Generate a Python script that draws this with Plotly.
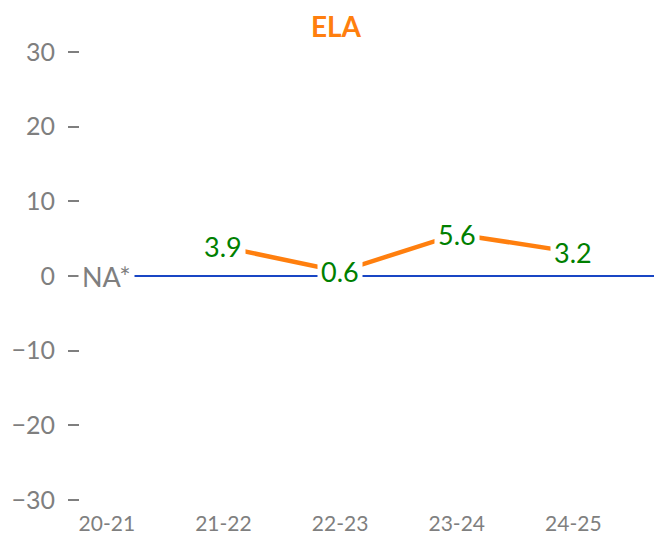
import plotly.graph_objects as go

categories = ["20-21", "21-22", "22-23", "23-24", "24-25"]
values = [None, 3.9, 0.6, 5.6, 3.2]
point_labels = ["NA*", "3.9", "0.6", "5.6", "3.2"]
y_ticks = [-30, -20, -10, 0, 10, 20, 30]
y_tick_text = ["\u221230", "\u221220", "\u221210", "0", "10", "20", "30"]

FONT = "Lato"
GRAY = "#7f7f7f"
ORANGE = "#ff7f0e"
GREEN = "#008000"
BLUE = "#1946c4"

# page body has an 8px margin; figure sized to fit the window
W, H = 654, 529

xs = [c for c, v in zip(categories, values) if v is not None]
ys = [v for v in values if v is not None]

fig = go.Figure()
fig.add_trace(go.Scatter(
    x=xs, y=ys, mode="lines",
    line=dict(color=ORANGE, width=4.5),
    hoverinfo="skip", showlegend=False,
))

annotations = []
for c, v, t in zip(categories, values, point_labels):
    annotations.append(dict(
        x=c, y=(v if v is not None else 0), xref="x", yref="y",
        text=t, showarrow=False,
        font=dict(family=FONT, size=27, color=(GREEN if v is not None else GRAY)),
        bgcolor="white", borderpad=3,
        xanchor="center", yanchor="middle",
    ))

fig.update_layout(
    width=W, height=H,
    margin=dict(l=72, r=0, t=44, b=37),
    paper_bgcolor="white", plot_bgcolor="white",
    font=dict(family=FONT, color=GRAY),
    title=dict(
        text="<b>ELA</b>", x=328 / W, xref="container", xanchor="center",
        y=1 - 19 / H, yref="container", yanchor="middle",
        font=dict(family=FONT, size=28, color=ORANGE),
    ),
    annotations=annotations,
    showlegend=False,
)
fig.update_xaxes(
    type="category", categoryorder="array", categoryarray=categories,
    range=[-0.23, 4.76], showgrid=False, zeroline=False, showline=False,
    ticks="", tickfont=dict(family=FONT, size=21, color=GRAY),
    ticklabelstandoff=9,
)
fig.update_yaxes(
    range=[-30, 30], tickvals=y_ticks, ticktext=y_tick_text,
    showgrid=False, showline=False,
    zeroline=True, zerolinecolor=BLUE, zerolinewidth=1.5,
    ticks="outside", ticklen=11, tickwidth=2, tickcolor=GRAY,
    ticklabelstandoff=8,
    tickfont=dict(family=FONT, size=25, color=GRAY),
)

fig.write_html("out.html")
